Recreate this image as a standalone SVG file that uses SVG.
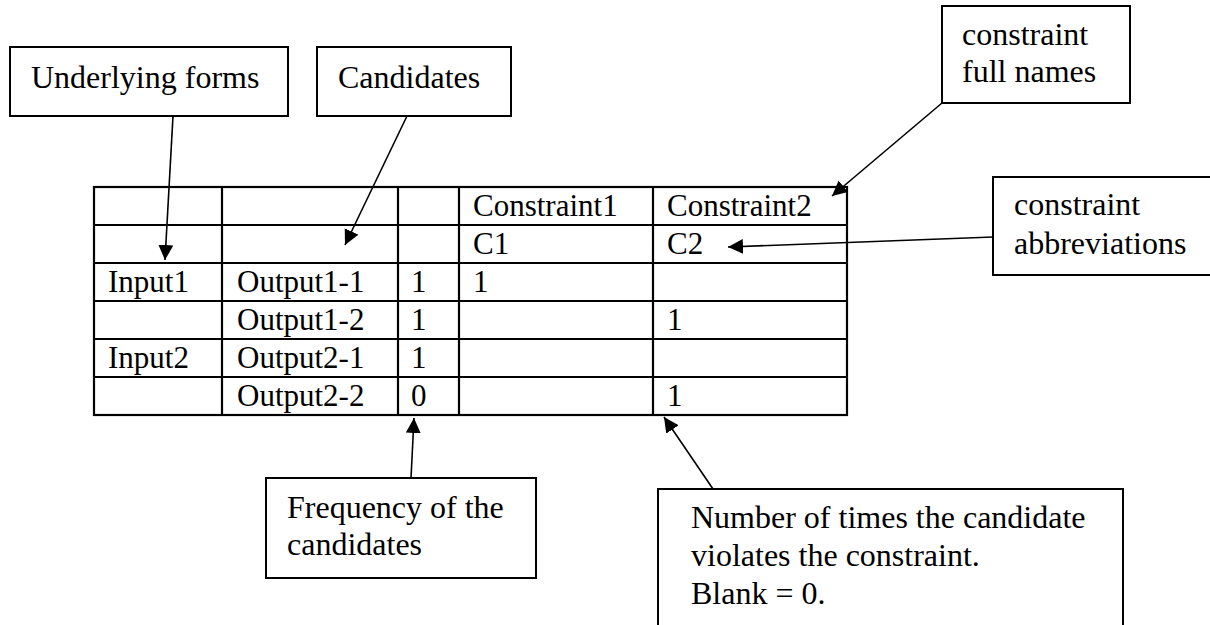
<svg xmlns="http://www.w3.org/2000/svg" width="1210" height="625" viewBox="0 0 1210 625">
  <style>
    .box { fill: #fff; stroke: #000; stroke-width: 2; }
    .grid { stroke: #000; stroke-width: 2.2; fill: none; }
    .lbl { font-family: "Liberation Serif", "Times New Roman", serif; font-size: 32px; fill: #000; }
    .cell { font-family: "Liberation Serif", "Times New Roman", serif; font-size: 31px; fill: #000; }
    .conn { stroke: #000; stroke-width: 1.6; fill: none; marker-end: url(#arrow); }
  </style>
  <defs>
    <marker id="arrow" markerUnits="userSpaceOnUse" markerWidth="16" markerHeight="16" refX="15" refY="7.5" orient="auto">
      <path d="M0,0 L15,7.5 L0,15 Z" fill="#000"/>
    </marker>
  </defs>
  <rect width="1210" height="625" fill="#fff"/>

  <!-- tableau -->
  <g id="table">
    <rect class="grid" x="94" y="187" width="753" height="228"/>
    <path class="grid" d="M94,225H847 M94,263H847 M94,301H847 M94,339H847 M94,377H847
                          M222,187V415 M398,187V415 M459,187V415 M653,187V415"/>
    <text class="cell" x="473" y="216">Constraint1</text>
    <text class="cell" x="667" y="216">Constraint2</text>
    <text class="cell" x="473" y="254">C1</text>
    <text class="cell" x="667" y="254">C2</text>
    <text class="cell" x="108" y="292">Input1</text>
    <text class="cell" x="237" y="292">Output1-1</text>
    <text class="cell" x="411" y="292">1</text>
    <text class="cell" x="473" y="292">1</text>
    <text class="cell" x="237" y="330">Output1-2</text>
    <text class="cell" x="411" y="330">1</text>
    <text class="cell" x="667" y="330">1</text>
    <text class="cell" x="108" y="368">Input2</text>
    <text class="cell" x="237" y="368">Output2-1</text>
    <text class="cell" x="411" y="368">1</text>
    <text class="cell" x="237" y="406">Output2-2</text>
    <text class="cell" x="411" y="406">0</text>
    <text class="cell" x="667" y="406">1</text>
  </g>

  <!-- callout boxes -->
  <g id="underlying-forms">
    <rect class="box" x="10" y="47" width="278" height="69"/>
    <text class="lbl" x="31" y="88">Underlying forms</text>
  </g>
  <g id="candidates">
    <rect class="box" x="317" y="47" width="194" height="69"/>
    <text class="lbl" x="338" y="88">Candidates</text>
  </g>
  <g id="full-names">
    <rect class="box" x="942" y="6" width="188" height="97"/>
    <text class="lbl" x="962" y="45">constraint</text>
    <text class="lbl" x="962" y="82">full names</text>
  </g>
  <g id="abbreviations">
    <rect class="box" x="993" y="177" width="230" height="98"/>
    <text class="lbl" x="1014" y="215">constraint</text>
    <text class="lbl" x="1014" y="254">abbreviations</text>
  </g>
  <g id="frequency">
    <rect class="box" x="266" y="478" width="270" height="100"/>
    <text class="lbl" x="287" y="518">Frequency of the</text>
    <text class="lbl" x="287" y="555">candidates</text>
  </g>
  <g id="violations">
    <rect class="box" x="658" y="489" width="465" height="160"/>
    <text class="lbl" x="691" y="528">Number of times the candidate</text>
    <text class="lbl" x="691" y="566">violates the constraint.</text>
    <text class="lbl" x="691" y="604">Blank = 0.</text>
  </g>

  <!-- connectors -->
  <g id="connectors">
    <line class="conn" x1="173" y1="116" x2="165" y2="260"/>
    <line class="conn" x1="407" y1="116" x2="345" y2="245"/>
    <line class="conn" x1="942" y1="103" x2="832" y2="196"/>
    <line class="conn" x1="993" y1="237" x2="728" y2="247"/>
    <line class="conn" x1="411" y1="478" x2="414" y2="418"/>
    <line class="conn" x1="713" y1="489" x2="664" y2="417"/>
  </g>
</svg>
